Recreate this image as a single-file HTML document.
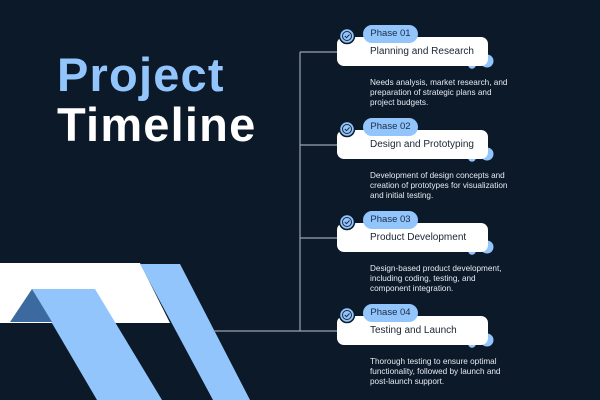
<!DOCTYPE html>
<html><head><style>
body{margin:0;width:600px;height:400px;background:#0b1928;overflow:hidden;position:relative;font-family:"Liberation Sans",sans-serif}
.t{position:absolute;left:57px;font-weight:bold;font-size:47px;letter-spacing:1.2px}
.card{position:absolute;left:337px;width:151px;height:29px;background:#fff;border-radius:7px}
.card span{position:absolute;left:33px;top:9px;font-size:10px;color:#1a2433}
.pill{position:absolute;left:363px;width:55px;height:18px;background:#93c5fd;border-radius:9px;font-size:9.5px;color:#1a2a44;text-align:center;line-height:18px}
.desc{position:absolute;left:370px;font-size:8.2px;line-height:10px;color:#e6ebf2;width:228px}
</style></head><body>
<div class="t" style="top:47px;color:#93c5fd">Project</div>
<div class="t" style="top:97px;color:#fff">Timeline</div>
<svg width="600" height="400" style="position:absolute;left:0;top:0">
<polygon points="0,263 140,263 170,323 0,323" fill="#fff"/>
<polygon points="140,264 180,264 250,400 213,400" fill="#93c5fd"/>
<polygon points="32,289 95,289 162,400 97,400" fill="#93c5fd"/>
<polygon points="10,322 32,289 52,322" fill="#3d6a9e"/>
<g stroke="#9aa3ad" stroke-width="1.2" fill="none">
<line x1="300" y1="52" x2="300" y2="331"/>
<line x1="300" y1="52" x2="338" y2="52"/>
<line x1="300" y1="145" x2="338" y2="145"/>
<line x1="300" y1="238" x2="338" y2="238"/>
<line x1="213" y1="331" x2="338" y2="331"/>
</g>
<g id="d">
<circle cx="487" cy="61" r="6.5" fill="#93c5fd"/>
<circle cx="472" cy="65" r="3.8" fill="#93c5fd"/>
<circle cx="483" cy="52" r="2" fill="#93c5fd"/>
</g>
<use href="#d" y="93"/><use href="#d" y="186"/><use href="#d" y="279"/>
</svg>
<div class="card" style="top:37px"><span>Planning and Research</span></div>
<div class="card" style="top:130px"><span>Design and Prototyping</span></div>
<div class="card" style="top:223px"><span>Product Development</span></div>
<div class="card" style="top:316px"><span>Testing and Launch</span></div>
<svg width="600" height="400" style="position:absolute;left:0;top:0">
<g id="c"><circle cx="347" cy="36" r="7.5" fill="#93c5fd" stroke="#0b1928" stroke-width="1.5"/>
<circle cx="347" cy="36" r="4.5" fill="none" stroke="#1a2a44" stroke-width="1"/>
<polyline points="344.8,36 346.5,37.7 349.5,34.5" fill="none" stroke="#1a2a44" stroke-width="1"/></g>
<use href="#c" y="93"/><use href="#c" y="186"/><use href="#c" y="279"/>
</svg>
<div class="pill" style="top:25px">Phase 01</div>
<div class="pill" style="top:118px">Phase 02</div>
<div class="pill" style="top:211px">Phase 03</div>
<div class="pill" style="top:304px">Phase 04</div>
<div class="desc" style="top:78px">Needs analysis, market research, and<br>preparation of strategic plans and<br>project budgets.</div>
<div class="desc" style="top:171px">Development of design concepts and<br>creation of prototypes for visualization<br>and initial testing.</div>
<div class="desc" style="top:264px">Design-based product development,<br>including coding, testing, and<br>component integration.</div>
<div class="desc" style="top:357px">Thorough testing to ensure optimal<br>functionality, followed by launch and<br>post-launch support.</div>
</body></html>
